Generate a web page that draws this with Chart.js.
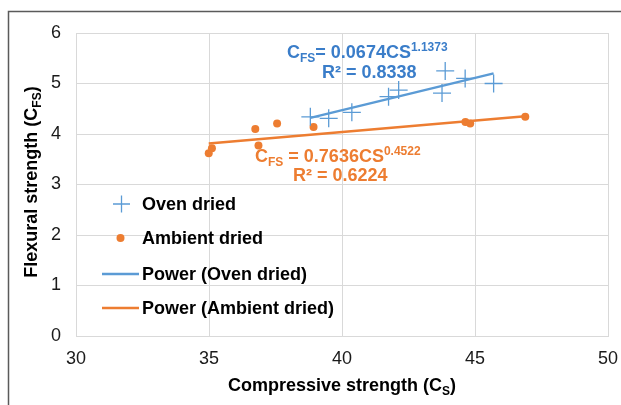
<!DOCTYPE html>
<html>
<head>
<meta charset="utf-8">
<script src="https://cdn.jsdelivr.net/npm/chart.js@4.4.0/dist/chart.umd.min.js"></script>
<style>
  html, body { margin: 0; padding: 0; background: #fff; }
  #wrap { width: 621px; height: 405px; }
</style>
</head>
<body>
<div id="wrap"><canvas id="fsChart" width="621" height="405"></canvas></div>
<script>
// values
const ovenCS = [38.81, 39.50, 40.37, 41.75, 42.13, 43.76, 43.88, 44.63, 45.70];
const ovenFS = [4.34, 4.31, 4.43, 4.74, 4.87, 4.81, 5.25, 5.10, 5.00];
const ambientCS = [34.99, 35.11, 36.74, 36.86, 37.56, 38.93, 44.64, 44.82, 46.89];
const ambientFS = [3.62, 3.72, 4.10, 3.77, 4.21, 4.14, 4.24, 4.21, 4.34];
// power trendline ends (as drawn in the picture)
const ovenTrendCS = [38.81, 45.70];
const ovenTrendFS = [4.32, 5.20];
const ambientTrendCS = [34.99, 46.89];
const ambientTrendFS = [3.81, 4.35];
const xTicks = [30, 35, 40, 45, 50];
const yTicks = [0, 1, 2, 3, 4, 5, 6];
const seriesNames = ['Oven dried', 'Ambient dried', 'Power (Oven dried)', 'Power (Ambient dried)'];

const BLUE = '#5B9BD5';
const ORANGE = '#ED7D31';
const FONT = "'Liberation Sans', Arial, sans-serif";

const toPoints = (xs, ys) => xs.map((x, i) => ({ x: x, y: ys[i] }));

// draws text made of pieces with different sizes / vertical offsets
function drawPieces(ctx, pieces, x, y, color, align) {
    let total = 0;
    pieces.forEach(p => {
        ctx.font = 'bold ' + p.size + 'px ' + FONT;
        p.w = ctx.measureText(p.t).width;
        total += p.w;
    });
    let cx = align === 'center' ? x - total / 2 : x;
    ctx.fillStyle = color;
    ctx.textBaseline = 'alphabetic';
    ctx.textAlign = 'left';
    pieces.forEach(p => {
        ctx.font = 'bold ' + p.size + 'px ' + FONT;
        ctx.fillText(p.t, cx, y + (p.dy || 0));
        cx += p.w;
    });
}

const extras = {
    id: 'extras',
    beforeDraw(chart) {
        const ctx = chart.ctx;
        ctx.save();
        ctx.fillStyle = '#fff';
        ctx.fillRect(0, 0, chart.width, chart.height);
        // frame of the cropped figure (left and top only)
        ctx.strokeStyle = '#5a5a5a';
        ctx.lineWidth = 1.5;
        ctx.beginPath();
        ctx.moveTo(8.5, chart.height);
        ctx.lineTo(8.5, 11.5);
        ctx.lineTo(chart.width, 11.5);
        ctx.stroke();
        ctx.restore();
    },
    afterDraw(chart) {
        const ctx = chart.ctx;
        ctx.save();
        // axis titles
        drawPieces(ctx, [
            { t: 'Compressive strength (C', size: 18 },
            { t: 'S', size: 12, dy: 4 },
            { t: ')', size: 18 }
        ], 342, 391, '#000', 'center');
        ctx.save();
        ctx.translate(37, 182);
        ctx.rotate(-Math.PI / 2);
        drawPieces(ctx, [
            { t: 'Flexural strength (C', size: 18 },
            { t: 'FS', size: 12, dy: 4 },
            { t: ')', size: 18 }
        ], 0, 0, '#000', 'center');
        ctx.restore();

        // trendline equations
        drawPieces(ctx, [
            { t: 'C', size: 18 },
            { t: 'FS', size: 12, dy: 4 },
            { t: '= 0.0674CS', size: 18 },
            { t: '1.1373', size: 12, dy: -7 }
        ], 287, 58, '#3A7DC9');
        drawPieces(ctx, [{ t: 'R² = 0.8338', size: 18 }], 322, 78, '#3A7DC9');
        drawPieces(ctx, [
            { t: 'C', size: 18 },
            { t: 'FS', size: 12, dy: 4 },
            { t: ' = 0.7636CS', size: 18 },
            { t: '0.4522', size: 12, dy: -7 }
        ], 255, 162, ORANGE);
        drawPieces(ctx, [{ t: 'R² = 0.6224', size: 18 }], 293, 181, ORANGE);

        // legend inside the plot
        const rows = [204, 238, 274, 308];
        const ds = chart.data.datasets;
        ctx.font = 'bold 18px ' + FONT;
        ctx.textBaseline = 'middle';
        ctx.textAlign = 'left';
        ctx.fillStyle = '#000';
        rows.forEach((ry, i) => ctx.fillText(ds[i].label, 142, ry + 1));
        ctx.strokeStyle = ds[0].borderColor;
        ctx.lineWidth = 1.3;
        ctx.beginPath();
        ctx.moveTo(113, rows[0]); ctx.lineTo(130, rows[0]);
        ctx.moveTo(121.5, rows[0] - 8.5); ctx.lineTo(121.5, rows[0] + 8.5);
        ctx.stroke();
        ctx.fillStyle = ds[1].backgroundColor;
        ctx.beginPath();
        ctx.arc(120.5, rows[1], 4, 0, Math.PI * 2);
        ctx.fill();
        ctx.lineWidth = 2.5;
        [2, 3].forEach(i => {
            ctx.strokeStyle = ds[i].borderColor;
            ctx.beginPath();
            ctx.moveTo(102, rows[i]);
            ctx.lineTo(139, rows[i]);
            ctx.stroke();
        });
        ctx.restore();
    }
};

const ctx = document.getElementById('fsChart').getContext('2d');
new Chart(ctx, {
    type: 'scatter',
    data: {
        datasets: [{
            label: seriesNames[0],
            data: toPoints(ovenCS, ovenFS),
            pointStyle: 'cross',
            pointRadius: 9,
            borderColor: BLUE,
            backgroundColor: BLUE,
            pointBorderWidth: 1.3,
            order: 2
        }, {
            label: seriesNames[1],
            data: toPoints(ambientCS, ambientFS),
            pointStyle: 'circle',
            pointRadius: 4,
            borderColor: ORANGE,
            backgroundColor: ORANGE,
            pointBorderWidth: 0,
            order: 2
        }, {
            label: seriesNames[2],
            data: toPoints(ovenTrendCS, ovenTrendFS),
            showLine: true,
            pointRadius: 0,
            borderColor: BLUE,
            borderWidth: 2.5,
            order: 1
        }, {
            label: seriesNames[3],
            data: toPoints(ambientTrendCS, ambientTrendFS),
            showLine: true,
            pointRadius: 0,
            borderColor: ORANGE,
            borderWidth: 2.5,
            order: 1
        }]
    },
    options: {
        responsive: false,
        animation: false,
        layout: { padding: { left: 0, top: 33, right: 13, bottom: 0 } },
        plugins: {
            legend: { display: false },
            tooltip: { enabled: false }
        },
        scales: {
            x: {
                type: 'linear',
                min: xTicks[0],
                max: xTicks[xTicks.length - 1],
                afterBuildTicks: s => { s.ticks = xTicks.map(v => ({ value: v })); },
                afterFit: s => { s.height = 69; s.paddingLeft = 0; s.paddingRight = 0; },
                grid: { color: '#d9d9d9', drawTicks: false },
                border: { color: '#d9d9d9' },
                ticks: { padding: 12, color: '#1a1a1a', font: { family: FONT, size: 18 } }
            },
            y: {
                min: yTicks[0],
                max: yTicks[yTicks.length - 1],
                afterBuildTicks: s => { s.ticks = yTicks.map(v => ({ value: v })); },
                afterFit: s => { s.width = 76; s.paddingTop = 0; s.paddingBottom = 0; },
                grid: { color: '#d9d9d9', drawTicks: false },
                border: { color: '#d9d9d9' },
                ticks: { padding: 15, color: '#1a1a1a', font: { family: FONT, size: 18 } }
            }
        }
    },
    plugins: [extras]
});
</script>
</body>
</html>
